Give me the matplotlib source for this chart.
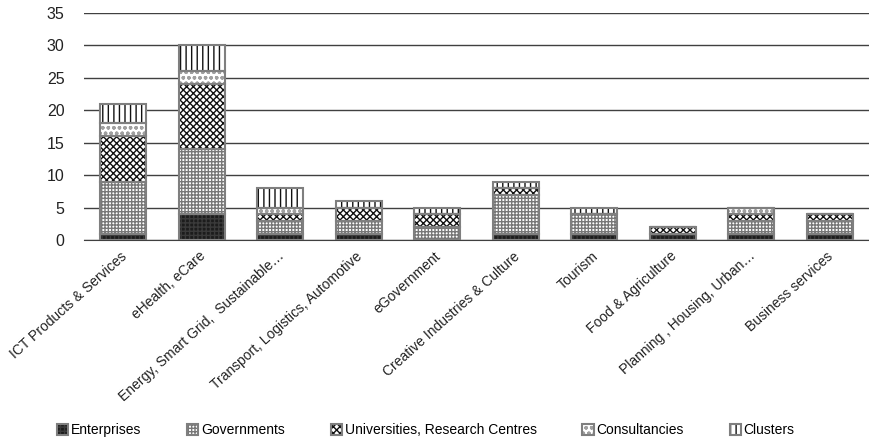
import matplotlib
matplotlib.use("Agg")
import matplotlib.pyplot as plt
import matplotlib.transforms as mtransforms
import numpy as np

plt.rcParams['font.family'] = ['Liberation Sans', 'DejaVu Sans']
plt.rcParams['hatch.linewidth'] = 1.0

categories = [
    "ICT Products & Services",
    "eHealth, eCare",
    "Energy, Smart Grid,  Sustainable\u2026",
    "Transport, Logistics, Automotive",
    "eGovernment",
    "Creative Industries & Culture",
    "Tourism",
    "Food & Agriculture",
    "Planning , Housing, Urban\u2026",
    "Business services",
]

enterprises = [1, 4, 1, 1, 0, 1, 1, 1, 1, 1]
governments = [8, 10, 2, 2, 2, 6, 3, 0, 2, 2]
universities = [7, 10, 1, 2, 2, 1, 0, 1, 1, 1]
consultancies = [2, 2, 1, 0, 0, 0, 0, 0, 1, 0]
clusters = [3, 4, 3, 1, 1, 1, 1, 0, 0, 0]

series_names = ["Enterprises", "Governments", "Universities, Research Centres",
                "Consultancies", "Clusters"]
series = [enterprises, governments, universities, consultancies, clusters]

styles = [
    dict(facecolor="#1c1c1c", hatch="++++", hatch_color="#3a3a3a"),
    dict(facecolor="#ffffff", hatch="+++++", hatch_color="#777777"),
    dict(facecolor="#ffffff", hatch="xxxxx", hatch_color="#111111"),
    dict(facecolor="#ffffff", hatch="ooo", hatch_color="#a0a0a0"),
    dict(facecolor="#ffffff", hatch="|||", hatch_color="#111111"),
]

fig = plt.figure(figsize=(8.69, 4.41), dpi=100)
ax = fig.add_axes([84 / 869, 1 - 240 / 441, 785 / 869, 227 / 441])

x = np.arange(len(categories))
bottom = np.zeros(len(categories))
handles = []
for name, vals, st in zip(series_names, series, styles):
    vals = np.array(vals, dtype=float)
    fill = ax.bar(x, vals, width=0.59, bottom=bottom, color=st["facecolor"],
                  edgecolor=st["hatch_color"], hatch=st["hatch"], linewidth=0,
                  zorder=2)
    # grey outline drawn separately so the hatch keeps its own colour
    outline = ax.bar(x, vals, width=0.59, bottom=bottom, fill=False,
                     edgecolor="#7f7f7f", linewidth=1.5, zorder=3)
    handles.append((fill, outline))
    bottom += vals

ax.set_xlim(-0.5, len(categories) - 0.5)
ax.set_ylim(0, 35)
ax.set_yticks(np.arange(0, 36, 5))
ax.yaxis.grid(True, color="#404040", linewidth=1.0, zorder=0)
ax.set_axisbelow(True)
for side in ["top", "right", "left"]:
    ax.spines[side].set_visible(False)
ax.spines["bottom"].set_color("#404040")
ax.tick_params(axis="y", length=0, pad=14, labelsize=11.5, colors="#222222")
ax.tick_params(axis="x", length=0, pad=8, labelsize=10, colors="#222222")
ax.set_xticks(x)
ax.set_xticklabels(categories, rotation=42, ha="right", rotation_mode="anchor")
shift = mtransforms.ScaledTranslation(-3 / 100, 2 / 100, fig.dpi_scale_trans)
for lbl in ax.get_xticklabels():
    lbl.set_transform(lbl.get_transform() + shift)

leg = fig.legend(handles=handles, labels=series_names, loc="lower center",
                 bbox_to_anchor=(0.49, -0.02), ncol=5, frameon=False,
                 fontsize=10, handlelength=0.8, handleheight=0.8,
                 handletextpad=0.2, columnspacing=3.3)

fig.savefig("out.png", dpi=100)
